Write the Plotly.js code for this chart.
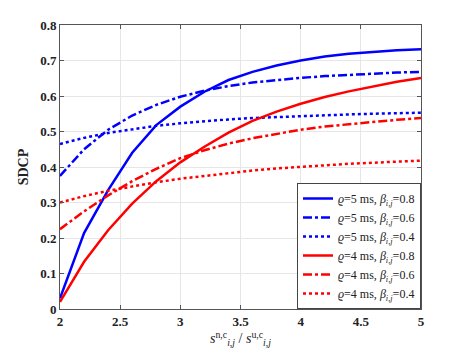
<!DOCTYPE html>
<html>
<head>
<meta charset="utf-8">
<script src="https://cdn.plot.ly/plotly-3.0.1.min.js"></script>
<style>
  body { margin: 0; background: #fff; }
  #plot { width: 465px; height: 349px; }
</style>
</head>
<body>
<div id="plot"></div>
<script>
// ratio s^{n,c}/s^{u,c}
var ratio = [2.0, 2.2, 2.4, 2.6, 2.8, 3.0, 3.2, 3.4, 3.6, 3.8, 4.0, 4.2, 4.4, 4.6, 4.8, 5.0];

// rho = 5 ms
var sdcp5_08 = [0.030, 0.214, 0.335, 0.440, 0.518, 0.570, 0.612, 0.645, 0.668, 0.686, 0.700, 0.711, 0.719, 0.725, 0.729, 0.732];
var sdcp5_06 = [0.375, 0.450, 0.505, 0.545, 0.575, 0.598, 0.615, 0.628, 0.638, 0.645, 0.651, 0.656, 0.660, 0.663, 0.666, 0.668];
var sdcp5_04 = [0.465, 0.482, 0.496, 0.507, 0.516, 0.523, 0.529, 0.534, 0.538, 0.541, 0.544, 0.546, 0.548, 0.550, 0.552, 0.553];

// rho = 4 ms
var sdcp4_08 = [0.020, 0.133, 0.222, 0.297, 0.360, 0.413, 0.457, 0.497, 0.530, 0.556, 0.578, 0.597, 0.613, 0.627, 0.640, 0.651];
var sdcp4_06 = [0.225, 0.275, 0.320, 0.360, 0.395, 0.425, 0.447, 0.466, 0.481, 0.494, 0.505, 0.514, 0.521, 0.528, 0.533, 0.538];
var sdcp4_04 = [0.300, 0.318, 0.333, 0.346, 0.357, 0.367, 0.375, 0.383, 0.390, 0.396, 0.401, 0.405, 0.409, 0.412, 0.415, 0.418];

function name(rho, beta) {
  return "<i>ϱ</i>=" + rho + " ms, <i>β</i><sub><i>i,j</i></sub>=" + beta;
}

function trace(y, rho, beta, color, dash) {
  return {
    x: ratio,
    y: y,
    mode: "lines",
    type: "scatter",
    name: name(rho, beta),
    line: { color: color, width: 2.5, dash: dash }
  };
}

var data = [
  trace(sdcp5_08, 5, 0.8, "#0000ff", "solid"),
  trace(sdcp5_06, 5, 0.6, "#0000ff", "dashdot"),
  trace(sdcp5_04, 5, 0.4, "#0000ff", "dot"),
  trace(sdcp4_08, 4, 0.8, "#ff0000", "solid"),
  trace(sdcp4_06, 4, 0.6, "#ff0000", "dashdot"),
  trace(sdcp4_04, 4, 0.4, "#ff0000", "dot")
];

var axisStyle = {
  showline: true,
  mirror: "ticks",
  linecolor: "#555",
  linewidth: 1,
  ticks: "inside",
  ticklen: 4,
  tickcolor: "#555",
  showgrid: true,
  gridcolor: "#e6e6e6",
  zeroline: false,
  tickfont: { family: "Liberation Serif", size: 13, color: "#222", weight: "bold" }
};

var layout = {
  width: 465,
  height: 349,
  margin: { l: 60, r: 44, t: 25, b: 40 },
  paper_bgcolor: "#fff",
  plot_bgcolor: "#fff",
  font: { family: "Liberation Serif", color: "#222" },
  xaxis: Object.assign({}, axisStyle, {
    range: [2, 5],
    dtick: 0.5,
    title: {
      text: "<i>s</i><sup>n,c</sup><sub><i>i,j</i></sub> / <i>s</i><sup>u,c</sup><sub><i>i,j</i></sub>",
      font: { family: "Liberation Serif", size: 14, color: "#222" },
      standoff: 2
    }
  }),
  yaxis: Object.assign({}, axisStyle, {
    range: [0, 0.8],
    dtick: 0.1,
    title: {
      text: "<b>SDCP</b>",
      font: { family: "Liberation Serif", size: 14, color: "#222" },
      standoff: 8
    }
  }),
  legend: {
    x: 1, y: 0,
    xanchor: "right", yanchor: "bottom",
    bgcolor: "#fff",
    bordercolor: "#444",
    borderwidth: 1,
    font: { family: "Liberation Serif", size: 12, color: "#222" },
    tracegroupgap: 0,
    itemwidth: 30
  },
  showlegend: true
};

Plotly.newPlot("plot", data, layout, { displayModeBar: false, staticPlot: true });
</script>
</body>
</html>
